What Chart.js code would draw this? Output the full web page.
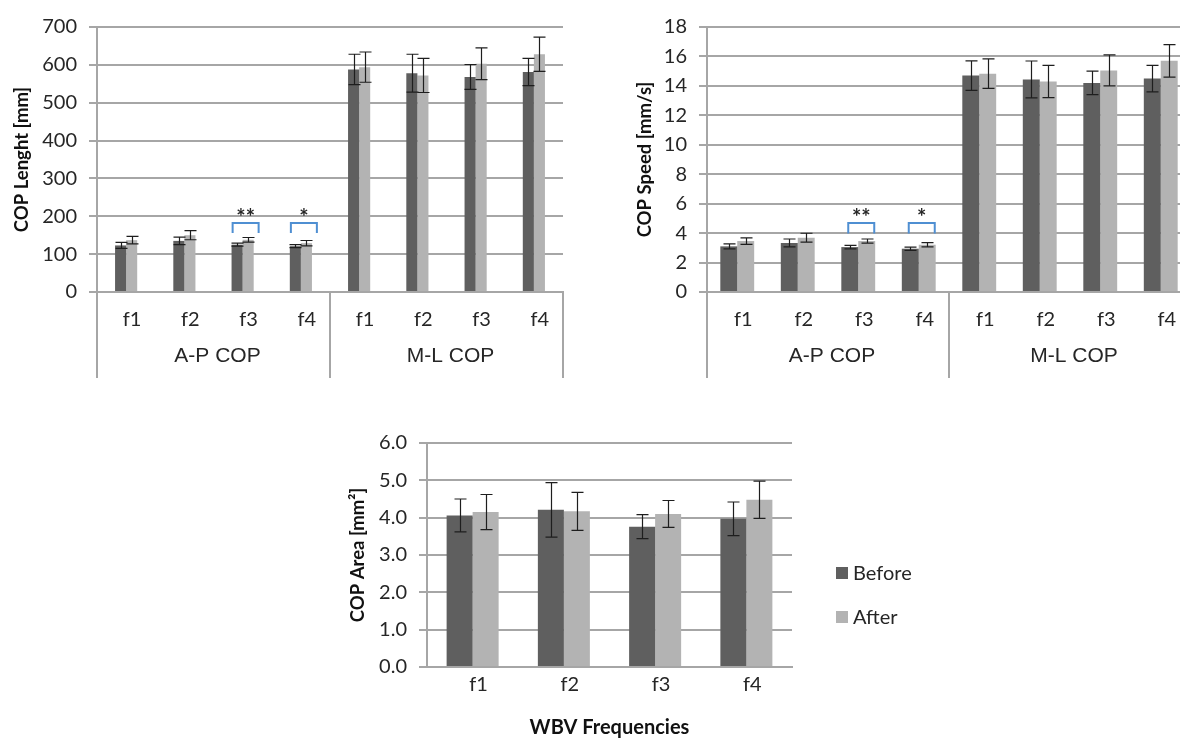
<!DOCTYPE html>
<html><head><meta charset="utf-8">
<script src="https://cdn.jsdelivr.net/npm/chart.js@4/dist/chart.umd.min.js"></script>
<style>
html,body{margin:0;padding:0;width:1180px;height:741px;overflow:hidden;background:#fff;}
canvas{position:absolute;}
</style></head><body>
<canvas id="c1" width="575" height="385" style="left:0;top:0"></canvas>
<canvas id="c2" width="590" height="385" style="left:610px;top:0"></canvas>
<canvas id="c3" width="600" height="341" style="left:330px;top:400px"></canvas>
<script>
// ---- data ----
const categories = ['f1', 'f2', 'f3', 'f4'];
const groups = ['A-P COP', 'M-L COP'];
const seriesNames = ['Before', 'After'];

const lengthBefore    = [123, 135, 125, 121, 588, 578, 568, 581];
const lengthBeforeErr = [8, 10, 4, 4, 40, 50, 33, 36];
const lengthAfter     = [137, 150, 138, 129, 594, 572, 603, 628];
const lengthAfterErr  = [10, 12, 6, 7, 40, 45, 42, 45];
const lengthTicks     = {max: 700, step: 100};

const speedBefore    = [3.1, 3.33, 3.05, 2.94, 14.7, 14.44, 14.2, 14.5];
const speedBeforeErr = [0.17, 0.27, 0.12, 0.11, 1.0, 1.25, 0.8, 0.9];
const speedAfter     = [3.46, 3.69, 3.46, 3.21, 14.83, 14.3, 15.05, 15.7];
const speedAfterErr  = [0.22, 0.3, 0.14, 0.15, 1.0, 1.1, 1.05, 1.1];
const speedTicks     = {max: 18, step: 2};

const areaBefore    = [4.06, 4.21, 3.76, 3.97];
const areaBeforeErr = [0.44, 0.73, 0.32, 0.45];
const areaAfter     = [4.15, 4.17, 4.10, 4.48];
const areaAfterErr  = [0.47, 0.51, 0.36, 0.5];
const areaTicks     = {max: 6, step: 1};

const sigIndices = [2, 3];
const sigMarks = ['**', '*'];
const lengthSigTop = [182, 182];
const lengthSigLow = [156, 156];
const speedSigTop = [4.69, 4.69];
const speedSigLow = [3.98, 3.98];

// ---- styles ----
const DARK = '#5f5f5f', LIGHT = '#b3b3b3', GRID = '#a6a6a6', TXT = '#262626';

const errorBarPlugin = {
  id: 'errorBars',
  afterDatasetsDraw(chart) {
    const ctx = chart.ctx, y = chart.scales.y;
    ctx.save();
    ctx.strokeStyle = '#1e1e1e';
    ctx.lineWidth = 1.2;
    chart.data.datasets.forEach((ds, di) => {
      const meta = chart.getDatasetMeta(di);
      meta.data.forEach((bar, i) => {
        const v = ds.data[i], e = ds.errors[i];
        const yt = y.getPixelForValue(v + e), yb = y.getPixelForValue(v - e);
        const x = Math.round(bar.x) + 0.5, cap = 6;
        ctx.beginPath();
        ctx.moveTo(x, yt); ctx.lineTo(x, yb);
        ctx.moveTo(x - cap, yt); ctx.lineTo(x + cap, yt);
        ctx.moveTo(x - cap, yb); ctx.lineTo(x + cap, yb);
        ctx.stroke();
      });
    });
    ctx.restore();
  }
};

const sigPlugin = {
  id: 'sig',
  afterDatasetsDraw(chart, args, opts) {
    if (!opts || !opts.indices) return;
    const ctx = chart.ctx, x = chart.scales.x, y = chart.scales.y;
    ctx.save();
    opts.indices.forEach((idx, k) => {
      const cx = x.getPixelForValue(idx);
      const x0 = cx - 10, x1 = cx + 16;
      const yt = y.getPixelForValue(opts.top[k]), yl = y.getPixelForValue(opts.low[k]);
      ctx.strokeStyle = '#4f8fd2';
      ctx.lineWidth = 2;
      ctx.beginPath();
      ctx.moveTo(x0, yl); ctx.lineTo(x0, yt); ctx.lineTo(x1, yt); ctx.lineTo(x1, yl);
      ctx.stroke();
      ctx.fillStyle = TXT;
      ctx.font = 'bold 22px Lato';
      ctx.textAlign = 'center';
      ctx.textBaseline = 'alphabetic';
      ctx.fillText(opts.marks[k], (x0 + x1) / 2, yt + 2);
    });
    ctx.restore();
  }
};

const groupAxisPlugin = {
  id: 'groupAxis',
  afterDraw(chart, args, opts) {
    if (!opts || !opts.groups) return;
    const ctx = chart.ctx, ca = chart.chartArea;
    const n = opts.groups.length;
    const w = (ca.right - ca.left) / n;
    ctx.save();
    ctx.strokeStyle = GRID;
    ctx.lineWidth = 2;
    for (let g = 0; g <= n; g++) {
      const xx = Math.round(ca.left + g * w);
      ctx.beginPath();
      ctx.moveTo(xx, ca.bottom);
      ctx.lineTo(xx, ca.bottom + opts.lineLen);
      ctx.stroke();
    }
    ctx.fillStyle = TXT;
    ctx.font = '21px "Liberation Sans"';
    ctx.textAlign = 'center';
    ctx.textBaseline = 'middle';
    opts.groups.forEach((g, i) => {
      ctx.fillText(g, ca.left + (i + 0.5) * w + 4, ca.bottom + opts.labelOffset);
    });
    ctx.restore();
  }
};

const legendPlugin = {
  id: 'sideLegend',
  afterDraw(chart, args, opts) {
    if (!opts || !opts.x) return;
    const ctx = chart.ctx;
    ctx.save();
    chart.data.datasets.forEach((ds, i) => {
      const yc = opts.y + i * opts.gap;
      ctx.fillStyle = ds.backgroundColor;
      ctx.fillRect(opts.x, yc - 6, 12, 12);
      ctx.fillStyle = TXT;
      ctx.font = '20px Lato';
      ctx.textAlign = 'left';
      ctx.textBaseline = 'middle';
      ctx.fillText(ds.label, opts.x + 17, yc + 1);
    });
    ctx.restore();
  }
};

function makeChart(id, cfg) {
  const labels = cfg.labels;
  return new Chart(document.getElementById(id), {
    type: 'bar',
    data: {
      labels: labels,
      datasets: [
        {label: seriesNames[0], data: cfg.before, errors: cfg.beforeErr, backgroundColor: DARK,
         categoryPercentage: cfg.cp, barPercentage: 1.0},
        {label: seriesNames[1], data: cfg.after, errors: cfg.afterErr, backgroundColor: LIGHT,
         categoryPercentage: cfg.cp, barPercentage: 1.0}
      ]
    },
    options: {
      responsive: false,
      animation: false,
      devicePixelRatio: 1,
      layout: {padding: cfg.padding},
      plugins: {
        legend: {display: false},
        tooltip: {enabled: false},
        sig: cfg.sig || {},
        groupAxis: cfg.groupAxis || {},
        sideLegend: cfg.legend || {}
      },
      scales: {
        x: {
          grid: {display: false, drawTicks: false},
          border: {display: true, color: GRID, width: 2},
          ticks: {color: TXT, font: {family: 'Lato', size: 20}, padding: cfg.xPad, labelOffset: 6, maxRotation: 0, autoSkip: false},
          title: cfg.xTitle ? {display: true, text: cfg.xTitle, color: '#111', font: {family: 'Lato', size: 20, weight: 'bold'}, padding: {top: 0, bottom: 1}} : {display: false},
          afterFit(s) { s.height = cfg.xHeight; }
        },
        y: {
          min: 0, max: cfg.ticks.max,
          grid: {color: GRID, lineWidth: 2, tickLength: 8},
          border: {display: true, color: GRID, width: 2},
          ticks: {stepSize: cfg.ticks.step, color: TXT, padding: 12, font: {family: 'Lato', size: 20},
                  callback: cfg.tickFmt || (v => v)},
          title: {display: true, text: cfg.yTitle, color: '#111', font: {family: 'Lato', size: 18.5, weight: 'bold'}, padding: {top: cfg.yTitlePad, bottom: 0}},
          afterFit(s) { s.width = 97; }
        }
      }
    },
    plugins: [errorBarPlugin, sigPlugin, groupAxisPlugin, legendPlugin]
  });
}

const topLabels = groups.flatMap(() => categories);

makeChart('c1', {
  labels: topLabels,
  before: lengthBefore, beforeErr: lengthBeforeErr,
  after: lengthAfter, afterErr: lengthAfterErr,
  ticks: lengthTicks, cp: 0.38,
  padding: {top: 27, left: 0, right: 12, bottom: 0},
  xHeight: 93, xPad: 16,
  yTitle: 'COP Lenght [mm]', yTitlePad: 11,
  sig: {indices: sigIndices, marks: sigMarks, top: lengthSigTop, low: lengthSigLow},
  groupAxis: {groups: groups, lineLen: 86, labelOffset: 64}
});

makeChart('c2', {
  labels: topLabels,
  before: speedBefore, beforeErr: speedBeforeErr,
  after: speedAfter, afterErr: speedAfterErr,
  ticks: speedTicks, cp: 0.56,
  padding: {top: 27, left: 0, right: 9, bottom: 0},
  xHeight: 93, xPad: 16,
  yTitle: 'COP Speed [mm/s]', yTitlePad: 24,
  sig: {indices: sigIndices, marks: sigMarks, top: speedSigTop, low: speedSigLow},
  groupAxis: {groups: groups, lineLen: 86, labelOffset: 64}
});

makeChart('c3', {
  labels: categories,
  before: areaBefore, beforeErr: areaBeforeErr,
  after: areaAfter, afterErr: areaAfterErr,
  ticks: areaTicks, cp: 0.57,
  padding: {top: 43, left: 0, right: 138, bottom: 0},
  xHeight: 74, xPad: 6,
  xTitle: 'WBV Frequencies',
  yTitle: 'COP Area [mm\u00B2]', yTitlePad: 17,
  tickFmt: v => Number(v).toFixed(1),
  legend: {x: 506, y: 173, gap: 44}
});
</script>
</body></html>
